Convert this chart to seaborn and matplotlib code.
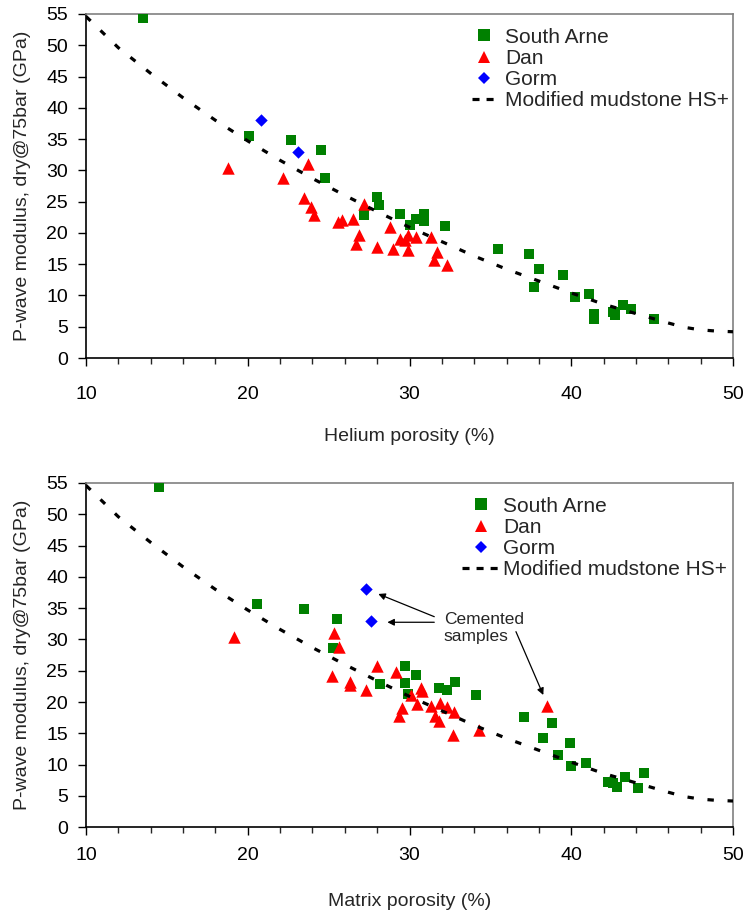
import numpy as np
import pandas as pd
import matplotlib
matplotlib.use("Agg")
import matplotlib.pyplot as plt
from matplotlib.lines import Line2D
from matplotlib.ticker import MultipleLocator
import seaborn as sns

# ---- data ----
# Helium porosity panel
sa_he_x = [13.5, 20.1, 22.7, 24.5, 24.8, 27.2, 28.0, 28.1, 29.4, 30.0, 30.4, 30.9, 30.9, 32.2,
           35.5, 37.4, 38.0, 37.7, 39.5, 40.2, 41.1, 41.4, 41.4, 42.6, 42.7, 43.2, 43.7, 45.1]
sa_he_y = [54.3, 35.5, 34.9, 33.3, 28.7, 22.9, 25.8, 24.4, 23.0, 21.3, 22.3, 23.1, 21.9, 21.1,
           17.5, 16.6, 14.3, 11.4, 13.3, 9.8, 10.2, 7.1, 6.3, 7.3, 6.8, 8.5, 7.9, 6.2]
dan_he_x = [18.8, 22.2, 23.7, 23.5, 23.9, 24.1, 25.6, 25.8, 26.5, 26.9, 26.7, 27.2, 28.0, 28.8,
            29.0, 29.4, 29.9, 29.7, 29.9, 30.4, 31.3, 31.7, 31.5, 32.3]
dan_he_y = [30.3, 28.7, 31.0, 25.5, 24.1, 22.9, 21.8, 22.1, 22.3, 19.7, 18.3, 24.6, 17.7, 21.0,
            17.5, 19.1, 19.7, 18.9, 17.3, 19.3, 19.3, 17.0, 15.7, 14.8]
gorm_he_x = [20.8, 23.1]
gorm_he_y = [38.0, 33.0]

# Matrix porosity panel
sa_mx_x = [14.5, 20.55, 23.5, 25.5, 25.25, 28.2, 29.75, 29.75, 29.9, 30.4, 31.8, 32.3, 32.8, 34.1,
           37.05, 38.8, 38.25, 39.15, 39.95, 40.0, 40.9, 42.3, 42.55, 42.8, 43.35, 44.1, 44.5]
sa_mx_y = [54.4, 35.7, 34.9, 33.3, 28.7, 22.9, 25.8, 23.0, 21.3, 24.4, 22.3, 21.9, 23.2, 21.2,
           17.6, 16.6, 14.3, 11.5, 13.4, 9.8, 10.2, 7.3, 7.0, 6.5, 8.0, 6.2, 8.6]
dan_mx_x = [19.15, 25.35, 25.65, 25.2, 26.3, 26.3, 27.3, 28.0, 29.15, 29.55, 29.35, 30.1, 30.45,
            30.7, 30.8, 31.3, 31.9, 31.55, 31.8, 32.3, 32.75, 32.7, 34.3, 38.5]
dan_mx_y = [30.4, 31.1, 28.8, 24.2, 22.7, 23.2, 21.9, 25.7, 24.8, 19.0, 17.7, 21.1, 19.7,
            22.2, 21.8, 19.3, 19.8, 17.7, 17.0, 19.2, 18.4, 14.7, 15.6, 19.3]
gorm_mx_x = [27.3, 27.6]
gorm_mx_y = [38.0, 33.0]

# Modified mudstone HS+ bound
hs_x = [10, 12, 14, 16, 18, 20, 22, 24, 26, 28, 30, 32, 34, 36, 38, 40, 42, 44, 46, 47, 48, 49, 50]
hs_y = [54.6, 49.6, 45.5, 41.6, 38.0, 34.7, 31.6, 28.7, 26.0, 23.4, 20.9, 18.6, 16.3, 14.2,
        12.3, 10.4, 8.6, 7.1, 5.6, 4.9, 4.5, 4.3, 4.2]

labels = ["South Arne", "Dan", "Gorm", "Modified mudstone HS+"]
y_label = "P-wave modulus, dry@75bar (GPa)"

# arrows for the cemented samples (start, end)
arrows = [((31.53, 33.64), (28.07, 37.27)),
          ((31.53, 32.75), (28.63, 32.75)),
          ((36.58, 31.25), (38.27, 21.13))]

sns.set_theme(style="white")
plt.rcParams["font.family"] = ["Liberation Sans", "DejaVu Sans"]

fig = plt.figure(figsize=(7.46, 9.18), dpi=100)
ax1 = fig.add_axes([0.1153, 0.6100, 0.8673, 0.3748])
ax2 = fig.add_axes([0.1153, 0.0988, 0.8673, 0.3751])

hs = pd.DataFrame({"x": hs_x, "y": hs_y})
dash = (0, (2.0, 4.3))


def draw(ax, sa_x, sa_y, dan_x, dan_y, gm_x, gm_y, xlabel, tickpad, xlab_y, leg_x, leg_hl, leg_pad):
    sns.scatterplot(x=sa_x, y=sa_y, ax=ax, marker="s", color="#008000", s=62, linewidth=0, zorder=3)
    sns.scatterplot(x=dan_x, y=dan_y, ax=ax, marker="^", color="#ff0000", s=80, linewidth=0, zorder=4)
    sns.scatterplot(x=gm_x, y=gm_y, ax=ax, marker="D", color="#0000ff", s=40, linewidth=0, zorder=5)
    sns.lineplot(data=hs, x="x", y="y", ax=ax, color="black", linewidth=2.3,
                 linestyle=dash, errorbar=None, zorder=6)

    ax.set_xlim(10, 50)
    ax.set_ylim(0, 55)
    ax.xaxis.set_major_locator(MultipleLocator(10))
    ax.xaxis.set_minor_locator(MultipleLocator(2))
    ax.yaxis.set_major_locator(MultipleLocator(5))
    ax.tick_params(axis="x", which="major", direction="out", length=6, width=1, pad=tickpad,
                   labelsize=14, bottom=True, colors="black")
    ax.tick_params(axis="x", which="minor", direction="out", length=4, width=1, bottom=True)
    ax.tick_params(axis="y", which="major", direction="out", length=6, width=1, pad=7,
                   labelsize=14, left=True, colors="black")
    for side in ["left", "bottom"]:
        ax.spines[side].set_color("black")
        ax.spines[side].set_linewidth(1.2)
    for side in ["top", "right"]:
        ax.spines[side].set_color("#808080")
        ax.spines[side].set_linewidth(1.2)

    ax.set_xlabel(xlabel, fontsize=14)
    ax.set_ylabel(y_label, fontsize=14)
    ax.xaxis.set_label_coords(0.5, xlab_y)
    ax.yaxis.set_label_coords(-0.085, 0.5)

    handles = [
        Line2D([], [], marker="s", color="#008000", linestyle="none", markersize=8, markeredgewidth=0),
        Line2D([], [], marker="^", color="#ff0000", linestyle="none", markersize=9, markeredgewidth=0),
        Line2D([], [], marker="D", color="#0000ff", linestyle="none", markersize=6.3, markeredgewidth=0),
        Line2D([], [], color="black", linewidth=2.3, linestyle=(0, (2.2, 2.2))),
    ]
    ax.legend(handles, labels, loc="upper left", bbox_to_anchor=(leg_x, 0.96), frameon=False,
              fontsize=15, borderpad=0, borderaxespad=0, labelspacing=0.1,
              handlelength=leg_hl, handletextpad=leg_pad)


draw(ax1, sa_he_x, sa_he_y, dan_he_x, dan_he_y, gorm_he_x, gorm_he_y,
     "Helium porosity (%)", 14, -0.202, 0.596, 1.2, 0.4)
draw(ax2, sa_mx_x, sa_mx_y, dan_mx_x, dan_mx_y, gorm_mx_x, gorm_mx_y,
     "Matrix porosity (%)", 8, -0.19, 0.5816, 1.8, 0.15)

ax2.text(32.13, 31.8, "Cemented\nsamples", fontsize=12.5, ha="left", va="center", zorder=7)
for start, end in arrows:
    ax2.annotate("", xy=end, xytext=start, zorder=7,
                 arrowprops=dict(arrowstyle="-|>", color="black", lw=0.9,
                                 shrinkA=0, shrinkB=0, mutation_scale=10))

fig.savefig("out.png", dpi=100)
